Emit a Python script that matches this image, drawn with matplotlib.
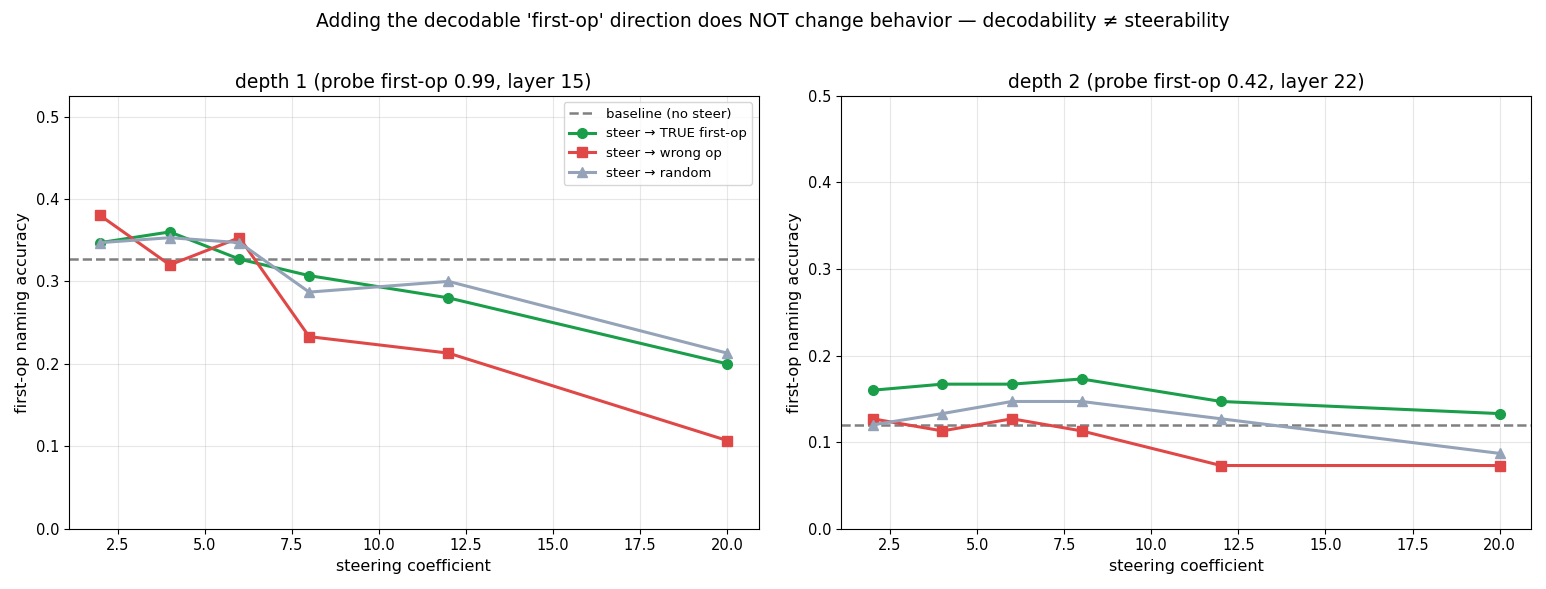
import numpy as np
import matplotlib
matplotlib.use("Agg")
import matplotlib.pyplot as plt

coefs = [2, 4, 6, 8, 12, 20]

d1_true = [0.347, 0.360, 0.327, 0.307, 0.280, 0.200]
d1_wrong = [0.380, 0.320, 0.353, 0.233, 0.213, 0.107]
d1_random = [0.347, 0.353, 0.347, 0.287, 0.300, 0.213]
d1_base = 0.327

d2_true = [0.160, 0.167, 0.167, 0.173, 0.147, 0.133]
d2_wrong = [0.127, 0.113, 0.127, 0.113, 0.073, 0.073]
d2_random = [0.120, 0.133, 0.147, 0.147, 0.127, 0.087]
d2_base = 0.120

fig, axes = plt.subplots(1, 2, figsize=(15.46, 5.89), dpi=100)

panels = [
    (axes[0], "depth 1 (probe first-op 0.99, layer 15)", d1_true, d1_wrong, d1_random, d1_base, 0.525),
    (axes[1], "depth 2 (probe first-op 0.42, layer 22)", d2_true, d2_wrong, d2_random, d2_base, 0.5),
]

for ax, title, t, w, r, base, ytop in panels:
    ax.axhline(base, color="gray", ls="--", lw=1.8, label="baseline (no steer)")
    ax.plot(coefs, t, "-o", color="#1a9e4a", lw=2.2, ms=7, label="steer → TRUE first-op")
    ax.plot(coefs, w, "-s", color="#e04848", lw=2.2, ms=7, label="steer → wrong op")
    ax.plot(coefs, r, "-^", color="#94a3b8", lw=2.2, ms=7, label="steer → random")
    ax.set_ylim(0, ytop)
    ax.set_yticks(np.arange(0, 0.51, 0.1))
    ax.set_title(title, fontsize=13.5)
    ax.set_xlabel("steering coefficient", fontsize=11.5)
    ax.set_ylabel("first-op naming accuracy", fontsize=11.5)
    ax.tick_params(labelsize=10.5)
    ax.grid(alpha=0.3)

axes[0].legend(loc="upper right", fontsize=9.5)
fig.suptitle("Adding the decodable 'first-op' direction does NOT change behavior — decodability ≠ steerability",
             fontsize=13.5)
fig.tight_layout(rect=[0, 0, 1, 0.96])
fig.subplots_adjust(wspace=0.12)
fig.savefig("out.png")
